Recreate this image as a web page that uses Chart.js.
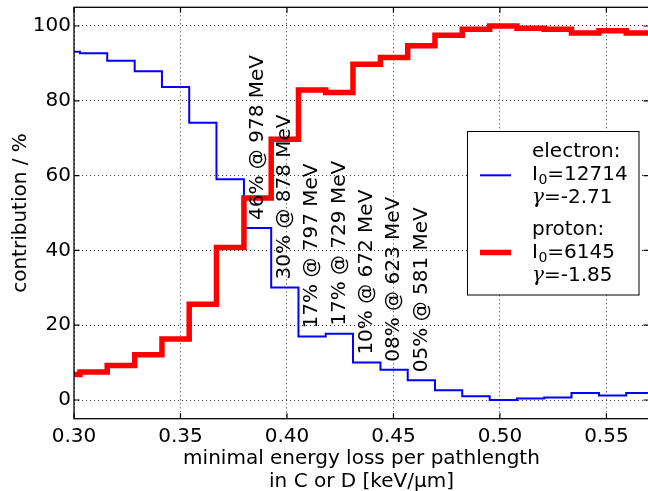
<!DOCTYPE html>
<html>
<head>
<meta charset="utf-8">
<script src="https://cdn.jsdelivr.net/npm/chart.js@4.4.0/dist/chart.umd.min.js"></script>
<style>
  html, body { margin: 0; padding: 0; background: #fff; overflow: hidden; }
  #wrap { position: relative; width: 649px; height: 491px; }
</style>
</head>
<body>
<div id="wrap"><canvas id="c" width="649" height="491"></canvas></div>
<script>
// Bin edges of the minimal energy loss per pathlength in C or D [keV/um]
const binEdges = [0.2900, 0.3028, 0.3156, 0.3285, 0.3413, 0.3541, 0.3669, 0.3798,
                  0.3926, 0.4054, 0.4182, 0.4310, 0.4439, 0.4567, 0.4695, 0.4823,
                  0.4952, 0.5080, 0.5208, 0.5336, 0.5465, 0.5593, 0.5721];

// Contribution per bin in %
const electron = [93.1, 92.7, 90.7, 87.9, 83.7, 74.1, 59.0, 46.0, 30.1, 17.0, 17.7,
                  10.0, 8.1, 5.3, 2.6, 1.0, 0.0, 0.4, 0.7, 1.9, 1.2, 1.9];
const proton   = [6.8, 7.5, 9.2, 12.1, 16.3, 25.6, 40.8, 54.0, 69.7, 82.9, 82.2,
                  89.8, 91.6, 94.7, 97.5, 99.1, 100.0, 99.4, 99.1, 98.1, 98.7, 98.1];

// Annotated bins: electron share and corresponding energy threshold
const labelBins     = [7, 8, 9, 10, 11, 12, 13];
const labelEnergies = [978, 878, 797, 729, 672, 623, 581];

// Spectrum fit parameters shown in the legend
const seriesNames = ['electron', 'proton'];
const fitI0       = [12714, 6145];
const fitGamma    = ['-2.71', '-1.85'];

const xTicks = [0.30, 0.35, 0.40, 0.45, 0.50, 0.55];
const yTicks = [0, 20, 40, 60, 80, 100];

const FONT = 'DejaVu Sans';
Chart.defaults.font.family = FONT;
Chart.defaults.color = '#000';

function stepPoints(vals) {
  const pts = vals.map((v, i) => ({ x: binEdges[i], y: v }));
  pts.push({ x: binEdges[vals.length], y: vals[vals.length - 1] });
  return pts;
}

function noPadding(s) {
  s.paddingTop = 0; s.paddingBottom = 0; s.paddingLeft = 0; s.paddingRight = 0;
}

// Rotated percentage annotations above the electron bins
const annotations = {
  id: 'annotations',
  afterDatasetsDraw(chart) {
    const { ctx, scales: { x, y } } = chart;
    ctx.save();
    ctx.font = '20px "' + FONT + '"';
    ctx.fillStyle = '#000';
    ctx.textAlign = 'left';
    ctx.textBaseline = 'middle';
    labelBins.forEach((b, k) => {
      const v = electron[b];
      const pct = String(Math.floor(v + 1e-9)).padStart(2, '0');
      const txt = pct + '% @ ' + labelEnergies[k] + ' MeV';
      const xc = x.getPixelForValue((binEdges[b] + binEdges[b + 1]) / 2);
      const yp = y.getPixelForValue(v) - 8;
      ctx.save();
      ctx.translate(xc, yp);
      ctx.rotate(-Math.PI / 2);
      ctx.fillText(txt, 0, 0);
      ctx.restore();
    });
    ctx.restore();
  }
};

// Axes frame with inward ticks on all four sides, plus the legend box
const frame = {
  id: 'frame',
  afterDraw(chart) {
    const { ctx, chartArea: a, scales: { x, y } } = chart;
    ctx.save();
    ctx.strokeStyle = '#000';
    ctx.lineWidth = 1.3;
    ctx.strokeRect(a.left, a.top, a.right - a.left, a.bottom - a.top);
    const tl = 5.5;
    ctx.lineWidth = 1.2;
    ctx.beginPath();
    xTicks.forEach(t => {
      const px = x.getPixelForValue(t);
      ctx.moveTo(px, a.bottom); ctx.lineTo(px, a.bottom - tl);
      ctx.moveTo(px, a.top);    ctx.lineTo(px, a.top + tl);
    });
    yTicks.forEach(t => {
      const py = y.getPixelForValue(t);
      ctx.moveTo(a.left, py);  ctx.lineTo(a.left + tl, py);
      ctx.moveTo(a.right, py); ctx.lineTo(a.right - tl, py);
    });
    ctx.stroke();

    // legend
    const L = { x0: 467.5, y0: 131.5, x1: 639, y1: 295 };
    ctx.fillStyle = '#fff';
    ctx.fillRect(L.x0, L.y0, L.x1 - L.x0, L.y1 - L.y0);
    ctx.lineWidth = 1;
    ctx.strokeStyle = '#000';
    ctx.strokeRect(L.x0, L.y0, L.x1 - L.x0, L.y1 - L.y0);

    const bases = [157.3, 234.5];
    const lh = 23;
    const tx = 532;
    chart.data.datasets.forEach((ds, i) => {
      const b = bases[i];
      ctx.strokeStyle = ds.borderColor;
      ctx.lineWidth = ds.borderWidth;
      ctx.lineCap = 'butt';
      ctx.beginPath();
      ctx.moveTo(480, b + 18);
      ctx.lineTo(511, b + 18);
      ctx.stroke();

      ctx.fillStyle = '#000';
      ctx.textAlign = 'left';
      ctx.textBaseline = 'alphabetic';
      ctx.font = '20px "' + FONT + '"';
      ctx.fillText(seriesNames[i] + ':', tx, b);

      // I_0 = ...
      ctx.fillText('I', tx, b + lh);
      let cx = tx + ctx.measureText('I').width + 0.5;
      ctx.font = '14px "' + FONT + '"';
      ctx.fillText('0', cx, b + lh + 4);
      cx += ctx.measureText('0').width;
      ctx.font = '20px "' + FONT + '"';
      ctx.fillText('=' + fitI0[i], cx, b + lh);

      // gamma = ...
      ctx.font = 'italic 20px "DejaVu Serif"';
      ctx.fillText('\u03b3', tx, b + 2 * lh);
      cx = tx + ctx.measureText('\u03b3').width;
      ctx.font = '20px "' + FONT + '"';
      ctx.fillText('=' + fitGamma[i], cx, b + 2 * lh);
    });
    ctx.restore();
  }
};

new Chart(document.getElementById('c').getContext('2d'), {
  type: 'line',
  data: {
    datasets: [
      {
        label: 'electron',
        data: stepPoints(electron),
        borderColor: '#0000ff',
        borderWidth: 2,
        stepped: true,
        pointRadius: 0,
        fill: false,
        clip: 0,
        order: 1,
        borderJoinStyle: 'miter'
      },
      {
        label: 'proton',
        data: stepPoints(proton),
        borderColor: '#ff0000',
        borderWidth: 5.5,
        stepped: true,
        pointRadius: 0,
        fill: false,
        clip: 0,
        order: 0,
        borderJoinStyle: 'miter'
      }
    ]
  },
  options: {
    responsive: false,
    animation: false,
    devicePixelRatio: 1,
    layout: { padding: { top: 7.3, right: 0, left: 0, bottom: 0 } },
    plugins: { legend: { display: false }, tooltip: { enabled: false } },
    scales: {
      x: {
        type: 'linear',
        min: 0.30,
        max: 0.57,
        afterBuildTicks: s => { s.ticks = xTicks.map(v => ({ value: v })); },
        afterFit: s => { s.height = 72.3; noPadding(s); },
        ticks: {
          font: { size: 20 },
          color: '#000',
          padding: 6,
          maxRotation: 0,
          autoSkip: false,
          callback: v => Number(v).toFixed(2)
        },
        grid: { color: 'rgba(0,0,0,0.8)', lineWidth: 1, drawTicks: false },
        border: { display: false, dash: [1, 3] },
        title: {
          display: true,
          text: ['minimal energy loss per pathlength', 'in C or D [keV/\u03bcm]'],
          font: { size: 20, lineHeight: 1.15 },
          color: '#000',
          padding: { top: 0, bottom: -2.5 }
        }
      },
      y: {
        type: 'linear',
        min: -5,
        max: 105,
        afterBuildTicks: s => { s.ticks = yTicks.map(v => ({ value: v })); },
        afterFit: s => { s.width = 74; noPadding(s); },
        ticks: {
          font: { size: 20 },
          color: '#000',
          padding: 3,
          callback: v => String(v)
        },
        grid: { color: 'rgba(0,0,0,0.8)', lineWidth: 1, drawTicks: false },
        border: { display: false, dash: [1, 3] },
        title: {
          display: true,
          text: 'contribution / %',
          font: { size: 20 },
          color: '#000',
          padding: { top: 9, bottom: 0 }
        }
      }
    }
  },
  plugins: [annotations, frame]
});
</script>
</body>
</html>
